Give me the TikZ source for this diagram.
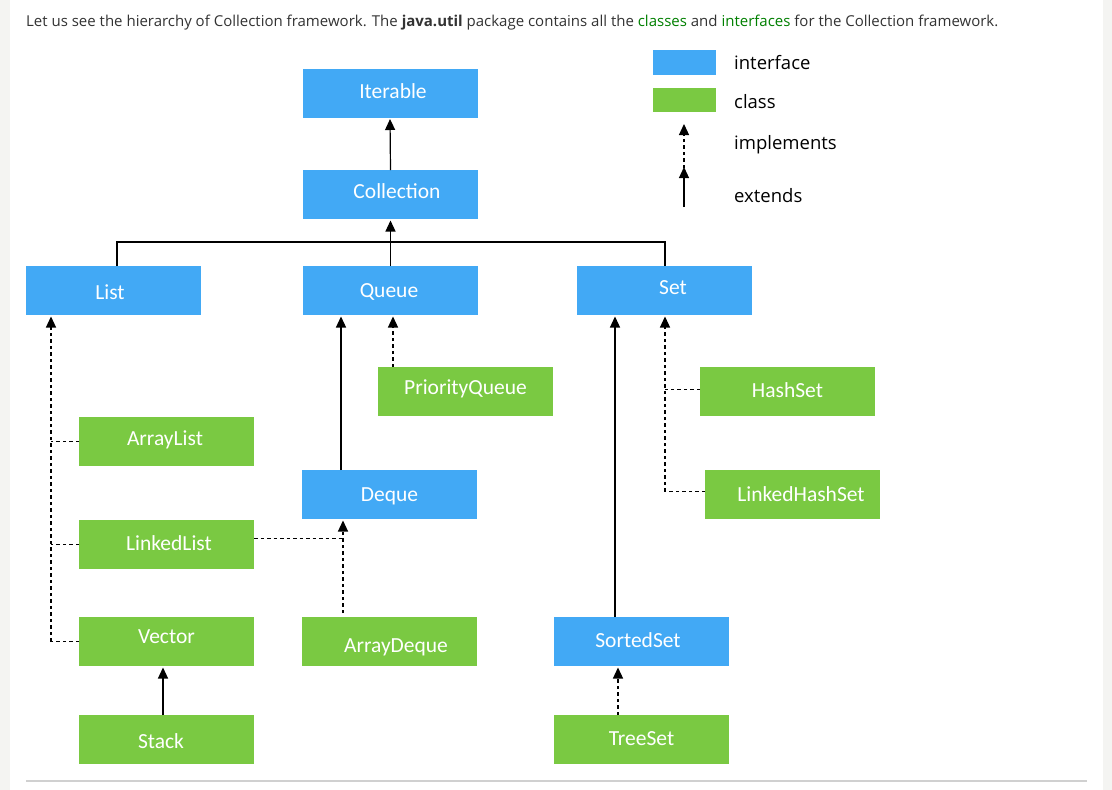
\documentclass[tikz,border=0pt]{standalone}
\usepackage{fontspec}
\usetikzlibrary{arrows.meta}
\newfontfamily\lblfont{Carlito}
\newfontfamily\osans{Open Sans}
\definecolor{ifblue}{RGB}{66,169,245}
\definecolor{clgreen}{RGB}{122,201,66}
\definecolor{txtgray}{RGB}{51,51,51}
\definecolor{lnkgreen}{RGB}{0,128,0}
\definecolor{stripgray}{RGB}{244,244,242}
\definecolor{rulegray}{RGB}{208,208,208}
\begin{document}
\begin{tikzpicture}[x=1pt,y=-1pt,
  box/.style={minimum width=175pt, minimum height=49pt, inner sep=0pt, outer sep=0pt},
  iface/.style={box, fill=ifblue},
  cls/.style={box, fill=clgreen},
  lbl/.style={text=white, font=\lblfont\fontsize{21.5}{24}\selectfont, anchor=mid, inner sep=0pt},
  lgd/.style={text=black, font=\osans\fontsize{18.5}{22}\selectfont, anchor=mid west, inner sep=0pt},
  ext/.style={line width=1.2pt, -{Triangle[width=10pt,length=11pt]}, shorten >=1.5pt},
  impl/.style={ext, dash pattern=on 3.5pt off 3pt},
  dsh/.style={line width=1.2pt, dash pattern=on 3.5pt off 3pt},
  conn/.style={line width=1.2pt}]
\useasboundingbox (0,0) rectangle (1112,790);
\fill[white] (0,0) rectangle (1112,790);
\fill[stripgray] (0,0) rectangle (10,790);
\fill[stripgray] (1103,0) rectangle (1112,790);
\coordinate (ruleL) at (26,781);
\coordinate (ruleR) at (1087,781);
\draw[rulegray, line width=1.3pt] (ruleL) -- (ruleR);

% intro text
\node[anchor=mid west, inner sep=0pt, text=txtgray, font=\osans\fontsize{15}{17}\selectfont] (intro) at (26,24)
  {Let us see the hierarchy of Collection framework. The \textbf{java.util} package contains all the \textcolor{lnkgreen}{classes} and \textcolor{lnkgreen}{interfaces} for the Collection framework.};

% boxes
\node[iface, label={[lbl,xshift=3pt,yshift=2pt]center:Iterable}] (iterable) at (390,93) {};
\node[iface, label={[lbl,xshift=6.5pt,yshift=3.5pt]center:Collection}] (collection) at (390.5,194.5) {};
\node[iface, label={[lbl,xshift=-3.5pt,yshift=-1.5pt]center:List}] (list) at (113.5,290.5) {};
\node[iface, label={[lbl,xshift=-1.5pt,yshift=-1.5pt]center:Queue}] (queue) at (390.5,290.5) {};
\node[iface, label={[lbl,xshift=9pt,yshift=2.5pt]center:Set}] (set) at (664,290.5) {};
\node[cls, label={[lbl,yshift=2.5pt]center:PriorityQueue}] (pq) at (465.5,391.5) {};
\node[cls, label={[lbl,xshift=-1.5pt,yshift=1.5pt]center:ArrayList}] (arraylist) at (166.5,441.5) {};
\node[cls, label={[lbl,yshift=1.5pt]center:HashSet}] (hashset) at (787.5,391.5) {};
\node[iface, label={[lbl,yshift=-1.5pt]center:Deque}] (deque) at (389.5,494.5) {};
\node[cls, label={[lbl,xshift=8.5pt,yshift=0.5pt]center:LinkedHashSet}] (lhs) at (792.5,494.5) {};
\node[cls, label={[lbl,xshift=2.5pt,yshift=1.5pt]center:LinkedList}] (linkedlist) at (166.5,544.5) {};
\node[cls, label={[lbl,yshift=4.5pt]center:Vector}] (vector) at (166.5,641.5) {};
\node[cls, label={[lbl,xshift=6.5pt,yshift=-5.5pt]center:ArrayDeque}] (arraydeque) at (389.5,641.5) {};
\node[iface, label={[lbl,xshift=-3.5pt,yshift=1.5pt]center:SortedSet}] (sortedset) at (641.5,641.5) {};
\node[cls, label={[lbl,xshift=-5.5pt,yshift=-1.5pt]center:Stack}] (stack) at (166.5,739.5) {};
\node[cls, label={[lbl,yshift=0.5pt]center:TreeSet}] (treeset) at (641.5,739.5) {};

% legend
\node[fill=ifblue, minimum width=63pt, minimum height=25pt, inner sep=0pt] (lgi) at (684.5,62.5) {};
\node[fill=clgreen, minimum width=63pt, minimum height=24pt, inner sep=0pt] (lgc) at (684.5,100) {};
\node[lgd] (lgit) at (734,67) {interface};
\node[lgd] (lgct) at (734,106) {class};
\node[lgd] (lgim) at (734,147) {implements};
\node[lgd] (lgex) at (734,200) {extends};
\coordinate (impA) at (684,168);
\coordinate (impB) at (684,124);
\coordinate (extA) at (684,207);
\coordinate (extB) at (684,167);
\draw[impl, shorten >=0pt] (impA) -- (impB);
\draw[ext, shorten >=0pt] (extA) -- (extB);

% connectors
\draw[ext] (collection.north) -- (iterable.south);
\draw[conn] ([xshift=3.5pt]list.north) -- ++(0,-24) -| ([xshift=1pt]set.north);
\draw[ext] (queue.north) -- (collection.south);

% List implementations
\coordinate (lv) at ([xshift=-28pt]vector.west);
\draw[impl] (lv) -- (lv |- list.south);
\draw[dsh] (arraylist.west) -- (arraylist.west -| lv);
\draw[dsh] (linkedlist.west) -- (linkedlist.west -| lv);
\draw[dsh] (vector.west) -- (lv);

% Queue
\coordinate (qx) at (341,0);
\draw[ext] (qx |- deque.north) -- (qx |- queue.south);
\coordinate (pqx) at (393,0);
\draw[impl] (pqx |- pq.north) -- (pqx |- queue.south);

% Deque
\coordinate (dx) at (343,0);
\draw[impl, shorten <=4pt] (dx |- arraydeque.north) -- (dx |- deque.south);
\coordinate (lle) at ([yshift=6pt]linkedlist.east);
\draw[dsh] (lle) -- (dx |- lle);

% Set
\coordinate (sx) at (615,0);
\draw[ext] (sx |- sortedset.north) -- (sx |- set.south);
\coordinate (hx) at (665,0);
\coordinate (hse) at ([yshift=2pt]hashset.west);
\coordinate (lhse) at ([yshift=3pt]lhs.west);
\draw[impl] (hx |- lhse) -- (hx |- set.south);
\draw[dsh] (hse) -- (hx |- hse);
\draw[dsh] (lhse) -- (hx |- lhse);

% Vector / SortedSet
\draw[ext] ([xshift=-3.5pt]stack.north) -- ([xshift=-3.5pt]vector.south);
\draw[impl] ([xshift=-23.5pt]treeset.north) -- ([xshift=-23.5pt]sortedset.south);
\end{tikzpicture}
\end{document}
